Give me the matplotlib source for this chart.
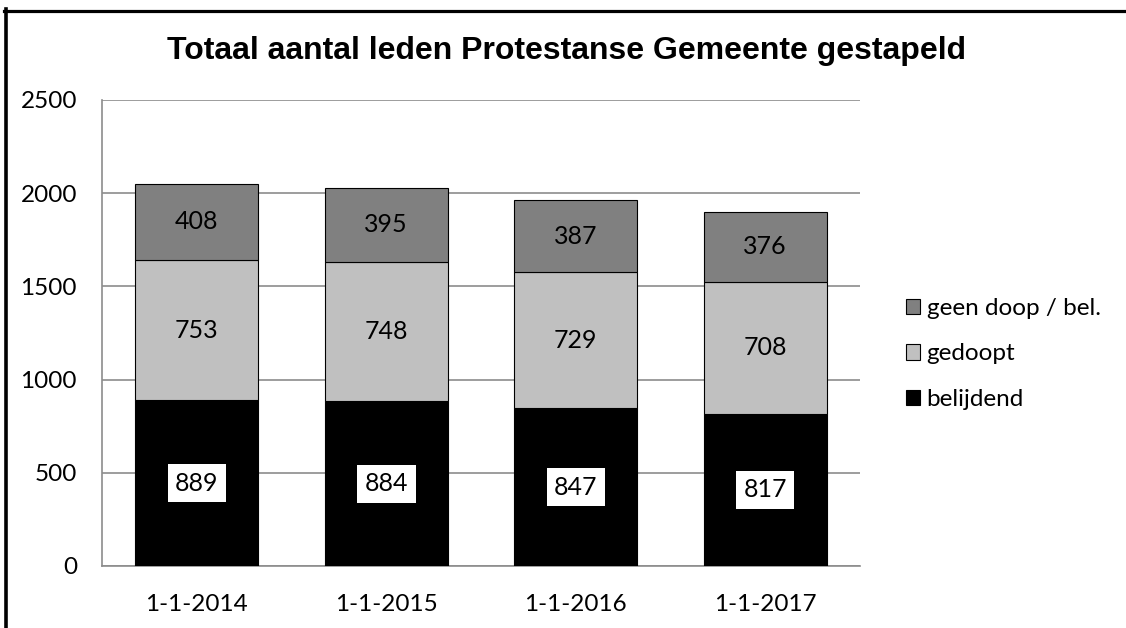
import matplotlib.pyplot as plt
from matplotlib.lines import Line2D
import numpy as np

categories = ["1-1-2014", "1-1-2015", "1-1-2016", "1-1-2017"]
belijdend = [889, 884, 847, 817]
gedoopt = [753, 748, 729, 708]
geen_doop = [408, 395, 387, 376]

plt.rcParams['font.family'] = ['Lato', 'DejaVu Sans']

fig = plt.figure(figsize=(11.26, 6.28), dpi=100)
ax = fig.add_axes([102 / 1126, 1 - 566 / 628, 758 / 1126, 466 / 628])

x = np.arange(len(categories))
w = 0.65
b1 = ax.bar(x, belijdend, w, color='black', edgecolor='black', linewidth=0.8, label='belijdend', zorder=3)
b2 = ax.bar(x, gedoopt, w, bottom=belijdend, color='#c0c0c0', edgecolor='black', linewidth=0.8,
            label='gedoopt', zorder=3)
bottom3 = np.array(belijdend) + np.array(gedoopt)
b3 = ax.bar(x, geen_doop, w, bottom=bottom3, color='#808080', edgecolor='black', linewidth=0.8,
            label='geen doop / bel.', zorder=3)

for i in range(len(categories)):
    ax.text(x[i], belijdend[i] / 2, str(belijdend[i]), ha='center', va='center', fontsize=18, zorder=4,
            bbox=dict(boxstyle='square,pad=0.3', facecolor='white', edgecolor='none'))
    ax.text(x[i], belijdend[i] + gedoopt[i] / 2, str(gedoopt[i]), ha='center', va='center', fontsize=18, zorder=4)
    ax.text(x[i], bottom3[i] + geen_doop[i] / 2, str(geen_doop[i]), ha='center', va='center', fontsize=18, zorder=4)

ax.set_xlim(-0.5, len(categories) - 0.5)
ax.set_ylim(0, 2500)
ax.set_yticks(range(0, 2501, 500))
ax.set_xticks(x)
ax.set_xticklabels(categories)
ax.tick_params(axis='both', length=0, labelsize=17.5)
ax.tick_params(axis='y', pad=18)
ax.tick_params(axis='x', pad=20)
ax.grid(axis='y', color='#8c8c8c', linewidth=1.2, zorder=0)
for s in ['top', 'right']:
    ax.spines[s].set_visible(False)
ax.spines['left'].set_color('#8c8c8c')
ax.spines['bottom'].set_color('#8c8c8c')
ax.spines['left'].set_linewidth(1.2)
ax.spines['bottom'].set_linewidth(1.2)

fig.text(0.5 * (168 + 965) / 1126, 1 - 51 / 628, "Totaal aantal leden Protestanse Gemeente gestapeld",
         ha='center', va='center', fontsize=23, fontweight='bold', family=['Liberation Sans', 'DejaVu Sans'])

handles = [b3, b2, b1]
leg = fig.legend(handles, [h.get_label() for h in handles], loc='center left',
                 bbox_to_anchor=(884 / 1126, 1 - 354 / 628), frameon=False, fontsize=17.5,
                 handlelength=0.6, handleheight=0.6, handletextpad=0.25, labelspacing=1.0)

# frame: only the top and left edges are inside the picture
fig.add_artist(Line2D([4 / 1126, 1], [1 - 10.5 / 628, 1 - 10.5 / 628], transform=fig.transFigure,
                      color='black', linewidth=2.3))
fig.add_artist(Line2D([5.5 / 1126, 5.5 / 1126], [0, 1 - 9 / 628], transform=fig.transFigure,
                      color='black', linewidth=2.6))

fig.savefig('out.png', dpi=100)
